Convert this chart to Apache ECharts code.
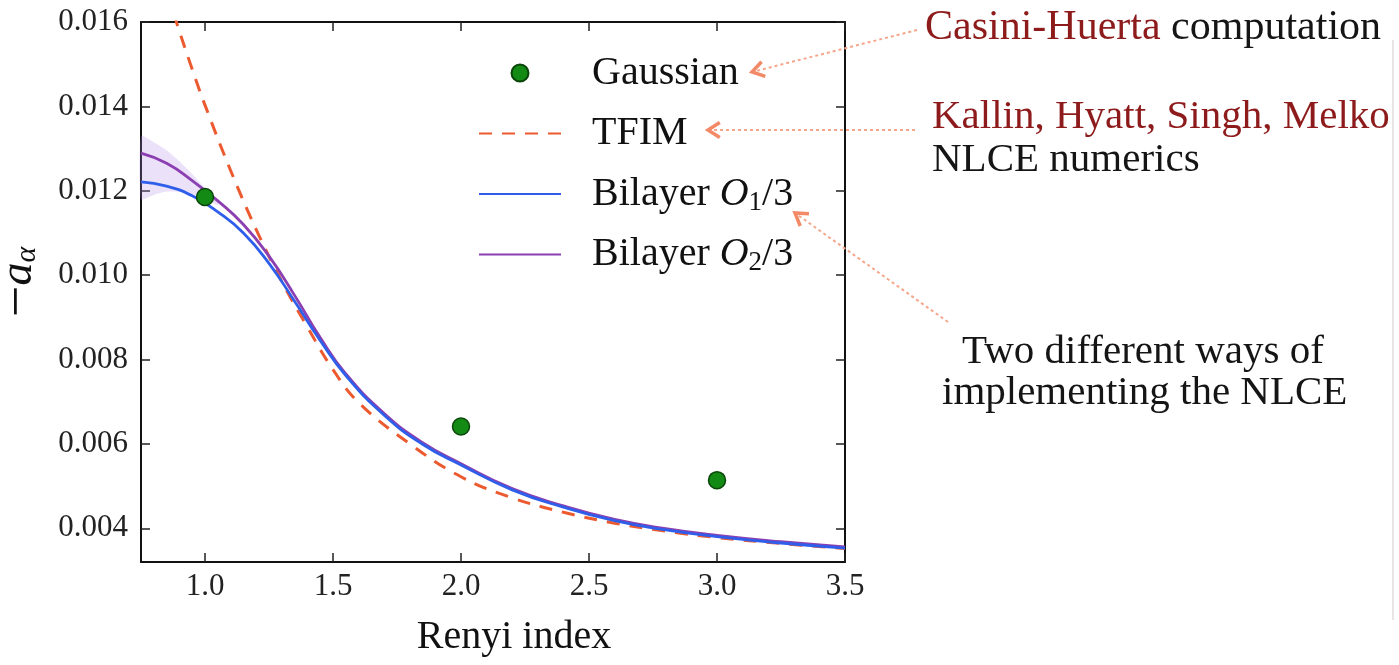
<!DOCTYPE html>
<html><head><meta charset="utf-8">
<script src="https://cdn.jsdelivr.net/npm/echarts@6/dist/echarts.min.js"></script>
<style>html,body{margin:0;padding:0;background:#fff}#c{width:1399px;height:665px}</style>
</head><body><div id="c"></div>
<script>
// ---- data ----
const xTicks = [1.0, 1.5, 2.0, 2.5, 3.0, 3.5];
const yTicks = [0.004, 0.006, 0.008, 0.010, 0.012, 0.014, 0.016];

const gaussianX = [1.0, 2.0, 3.0];
const gaussianY = [0.01185, 0.00641, 0.00514];

const tfimX = [0.85, 0.9, 0.95, 1.0, 1.1, 1.2, 1.3, 1.4, 1.5, 1.6, 1.8, 2.0, 2.2, 2.4, 2.6, 2.8, 3.0, 3.25, 3.5];
const tfimY = [0.01672, 0.01578, 0.01488, 0.01403, 0.01248, 0.01108, 0.00985, 0.00877, 0.00776, 0.00698, 0.00600, 0.00522, 0.00472, 0.00438, 0.00412, 0.00393, 0.00378, 0.00364, 0.00352];

const bilayerX = [0.75, 0.85, 0.95, 1.05, 1.15, 1.25, 1.35, 1.45, 1.55, 1.7, 1.85, 2.0, 2.2, 2.4, 2.6, 2.8, 3.0, 3.25, 3.5];
const bilayerO1 = [0.01221, 0.01211, 0.01188, 0.01150, 0.01100, 0.01028, 0.00938, 0.00845, 0.00762, 0.00668, 0.00599, 0.00550, 0.00491, 0.00450, 0.00418, 0.00396, 0.00380, 0.00365, 0.00353];
const bilayerO2 = [0.01289, 0.01265, 0.01224, 0.01176, 0.01120, 0.01045, 0.00952, 0.00852, 0.00766, 0.00672, 0.00603, 0.00553, 0.00494, 0.00453, 0.00421, 0.00399, 0.00383, 0.00368, 0.00356];

const bandX = [0.75, 0.8, 0.85, 0.9, 0.95, 1.0, 1.05];
const bandLow = [0.01180, 0.01190, 0.01198, 0.01197, 0.01192, 0.01183, 0.01165];
const bandHigh = [0.01330, 0.01315, 0.01296, 0.01270, 0.01240, 0.01206, 0.01176];

// ---- helpers ----
const pairs = (xs, ys) => xs.map((x, i) => [x, ys[i]]);
const SERIF = '"Liberation Serif", "DejaVu Serif", serif';

function arrow(x1, y1, x2, y2) {
  const dx = x1 - x2, dy = y1 - y2, L = Math.hypot(dx, dy), ux = dx / L, uy = dy / L;
  const h = 14, a = Math.PI / 5.5, c = Math.cos(a), s = Math.sin(a);
  const p1 = [x2 + h * (ux * c - uy * s), y2 + h * (ux * s + uy * c)];
  const p2 = [x2 + h * (ux * c + uy * s), y2 + h * (-ux * s + uy * c)];
  return [
    { type: 'line', z: 10, shape: { x1, y1, x2, y2 }, style: { stroke: '#f5a68a', lineWidth: 2, lineDash: [3, 3] } },
    { type: 'polyline', z: 10, shape: { points: [p1, [x2, y2], p2] }, style: { stroke: '#f28a68', lineWidth: 3.5, fill: null } }
  ];
}

const chart = echarts.init(document.getElementById('c'), null, { renderer: 'canvas' });

const axisLineStyle = { color: '#111', width: 2 };
const tickStyle = { color: '#222', width: 1.5 };
const hideSymbol = { opacity: 0 };

const option = {
  animation: false,
  backgroundColor: '#fff',
  grid: { left: 141, right: 554, top: 22, bottom: 103, containLabel: false, outerBoundsMode: 'none' },
  xAxis: [{
    type: 'value', min: 0.75, max: 3.5, position: 'bottom',
    name: 'Renyi index', nameLocation: 'middle', nameGap: 55,
    nameTextStyle: { fontFamily: SERIF, fontSize: 40, color: '#111', padding: [0, 0, 0, 42] },
    axisLine: { show: true, onZero: false, lineStyle: axisLineStyle },
    axisTick: { show: true, inside: true, length: 9, lineStyle: tickStyle, customValues: xTicks },
    axisLabel: { show: true, margin: 9, fontFamily: SERIF, fontSize: 31, color: '#222', customValues: xTicks,
      formatter: v => v.toFixed(1) },
    splitLine: { show: false }
  }, {
    type: 'value', min: 0.75, max: 3.5, position: 'top',
    axisLine: { show: true, onZero: false, lineStyle: axisLineStyle },
    axisTick: { show: true, inside: true, length: 9, lineStyle: tickStyle, customValues: xTicks },
    axisLabel: { show: false },
    splitLine: { show: false }
  }],
  yAxis: [{
    type: 'value', min: 0.0032, max: 0.016, position: 'left',
    name: '{m|−}{a|a}{s|α}', nameLocation: 'middle', nameGap: 88,
    nameTextStyle: { fontFamily: SERIF, fontSize: 42, color: '#111', padding: [0, 0, 0, 20],
      rich: {
        m: { fontFamily: SERIF, fontSize: 56, lineHeight: 46 },
        a: { fontFamily: SERIF, fontSize: 46, fontStyle: 'italic', lineHeight: 46 },
        s: { fontFamily: SERIF, fontSize: 30, fontStyle: 'italic', lineHeight: 30, verticalAlign: 'bottom' }
      } },
    axisLine: { show: true, onZero: false, lineStyle: axisLineStyle },
    axisTick: { show: true, inside: true, length: 9, lineStyle: tickStyle, customValues: yTicks },
    axisLabel: { show: true, margin: 13, fontFamily: SERIF, fontSize: 31, color: '#222', customValues: yTicks,
      formatter: v => v.toFixed(3) },
    splitLine: { show: false }
  }, {
    type: 'value', min: 0.0032, max: 0.016, position: 'right',
    axisLine: { show: true, onZero: false, lineStyle: axisLineStyle },
    axisTick: { show: true, inside: true, length: 9, lineStyle: tickStyle, customValues: yTicks },
    axisLabel: { show: false },
    splitLine: { show: false }
  }],
  legend: {
    show: true, orient: 'vertical', left: 478, top: 51, padding: 0,
    itemWidth: 82, itemHeight: 17, itemGap: 16.5, selectedMode: false,
    textStyle: { fontFamily: SERIF, fontSize: 40, color: '#111', lineHeight: 44, padding: [0, 0, 0, 26],
      rich: {
        t: { fontFamily: SERIF, fontSize: 40, lineHeight: 44 },
        o: { fontFamily: SERIF, fontSize: 40, fontStyle: 'italic', lineHeight: 44 },
        s: { fontFamily: SERIF, fontSize: 27, lineHeight: 27, verticalAlign: 'bottom' }
      } },
    formatter: function (name) {
      const m = name.match(/^Bilayer O(\d)\/3$/);
      if (m) return '{t|Bilayer }{o|O}{s|' + m[1] + '}{t|/3}';
      return name;
    },
    data: [
      { name: 'Gaussian', icon: 'circle' },
      { name: 'TFIM', itemStyle: hideSymbol },
      { name: 'Bilayer O1/3', itemStyle: hideSymbol },
      { name: 'Bilayer O2/3', itemStyle: hideSymbol }
    ]
  },
  series: [
    { name: 'band', type: 'custom', silent: true, z: 1, data: [0],
      renderItem: function (params, api) {
        const top = bandX.map((x, i) => api.coord([x, bandHigh[i]]));
        const bot = bandX.map((x, i) => api.coord([x, bandLow[i]])).reverse();
        return { type: 'polygon', shape: { points: top.concat(bot), smooth: 0.2 },
          style: { fill: 'rgba(175,140,235,0.25)', stroke: null } };
      } },
    { name: 'TFIM', type: 'line', smooth: 0.4, symbol: 'none', clip: true,
      lineStyle: { color: '#ec5a30', width: 3, type: [13, 10] }, itemStyle: { color: '#ec5a30' },
      data: pairs(tfimX, tfimY), z: 2 },
    { name: 'Bilayer O2/3', type: 'line', smooth: true, symbol: 'none',
      lineStyle: { color: '#8c3fb0', width: 2.8 }, itemStyle: { color: '#a24fc8' },
      data: pairs(bilayerX, bilayerO2), z: 3 },
    { name: 'Bilayer O1/3', type: 'line', smooth: true, symbol: 'none',
      lineStyle: { color: '#2f5fea', width: 2.8 }, itemStyle: { color: '#2f5fea' },
      data: pairs(bilayerX, bilayerO1), z: 4 },
    { name: 'Gaussian', type: 'scatter', symbol: 'circle', symbolSize: 17,
      itemStyle: { color: '#138a13', borderColor: '#0a460a', borderWidth: 1.5, opacity: 1 },
      data: pairs(gaussianX, gaussianY), z: 5 }
  ],
  graphic: [
    { type: 'text', x: 925, y: 28, z: 10, style: { text: '{r|Casini-Huerta} computation', font: '42px ' + SERIF,
      fill: '#151515', verticalAlign: 'middle', rich: { r: { fill: '#8e1b1b', font: '42px ' + SERIF } } } },
    { type: 'text', x: 932, y: 117, z: 10, style: { text: 'Kallin, Hyatt, Singh, Melko', font: '41px ' + SERIF,
      fill: '#8e1b1b', verticalAlign: 'middle' } },
    { type: 'text', x: 932, y: 160, z: 10, style: { text: 'NLCE numerics', font: '41px ' + SERIF,
      fill: '#151515', verticalAlign: 'middle' } },
    { type: 'text', x: 962, y: 352, z: 10, style: { text: 'Two different ways of', font: '41px ' + SERIF,
      fill: '#151515', verticalAlign: 'middle' } },
    { type: 'text', x: 942, y: 393, z: 10, style: { text: 'implementing the NLCE', font: '41px ' + SERIF,
      fill: '#151515', verticalAlign: 'middle' } },
    { type: 'line', z: 9, shape: { x1: 1393, y1: 40, x2: 1393, y2: 620 }, style: { stroke: '#dedede', lineWidth: 1.5 } },
    ...arrow(917, 30, 752, 72),
    ...arrow(915, 130, 708, 130),
    ...arrow(948, 322, 795, 213)
  ]
};
chart.setOption(option);
</script>
</body></html>
